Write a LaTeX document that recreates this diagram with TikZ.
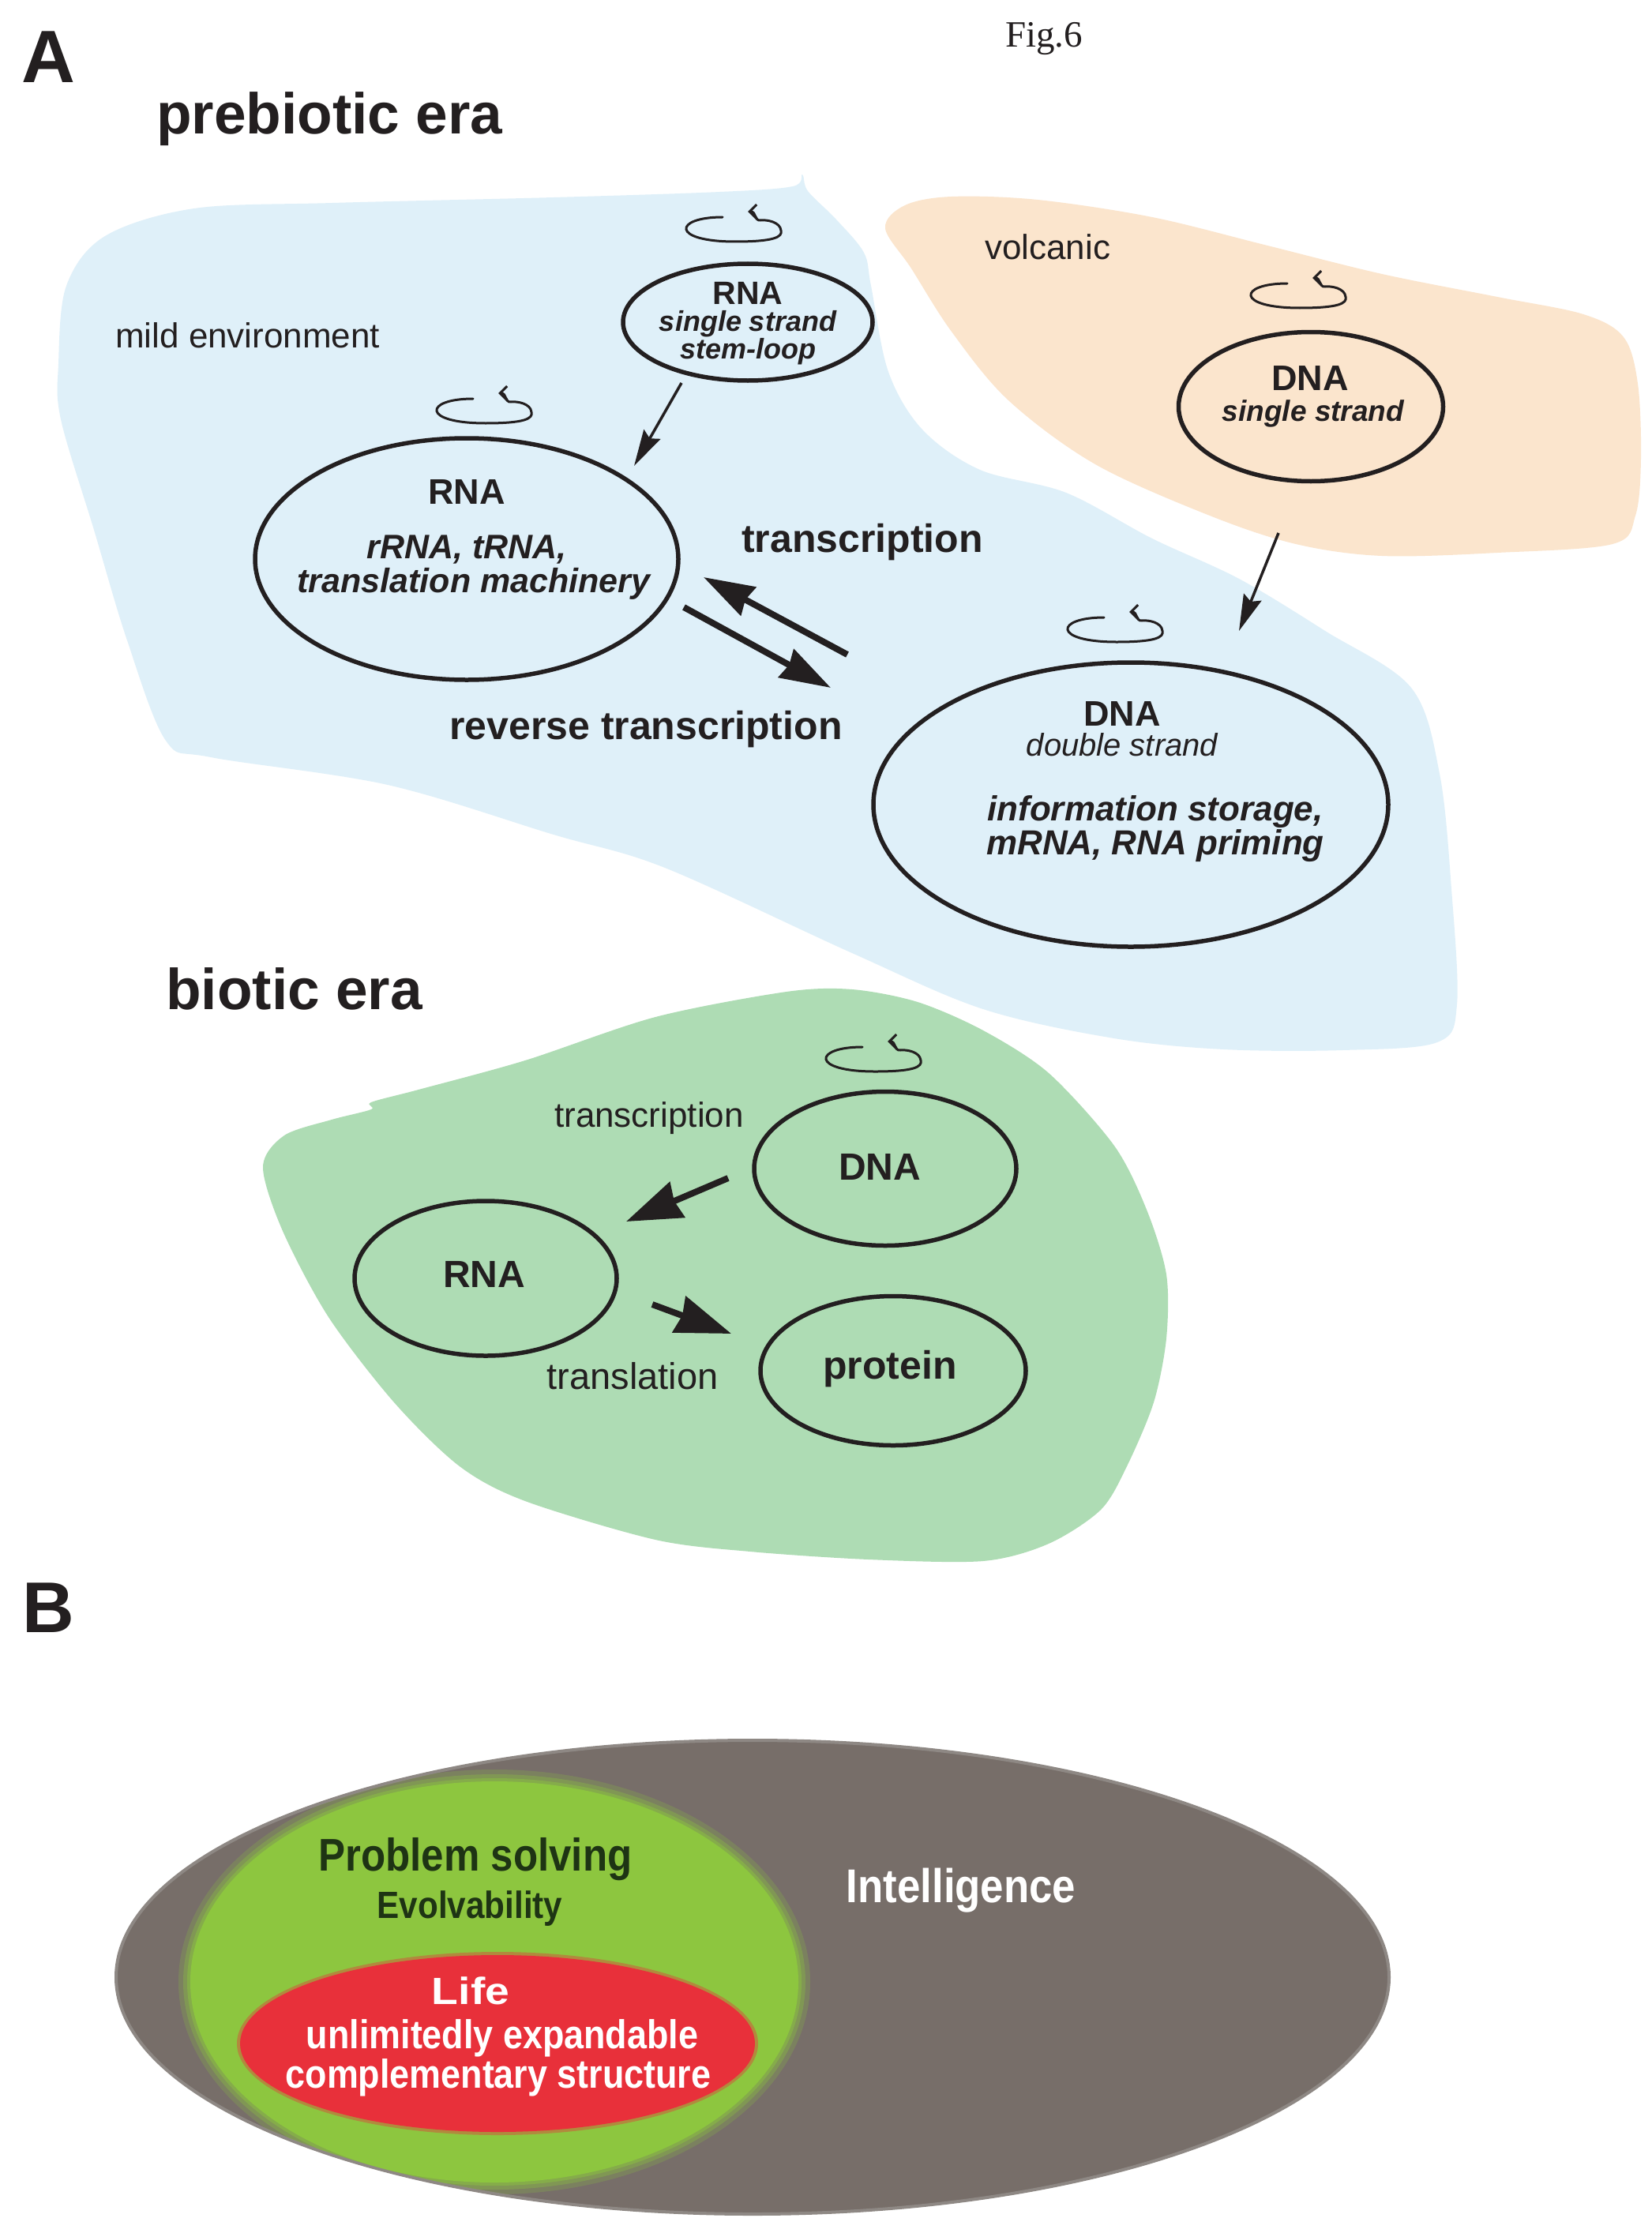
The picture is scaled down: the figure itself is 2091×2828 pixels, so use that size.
\documentclass[tikz,border=0pt]{standalone}
\usepackage{fontspec}
\usepackage{graphicx}
\setmainfont{Liberation Sans}
\newfontfamily\figserif{Liberation Serif}
\newfontfamily\condsans[FakeStretch=0.88]{Liberation Sans}
\usetikzlibrary{arrows.meta,shapes.geometric}
\newcommand{\setfs}[1]{\fontsize{#1pt}{#1pt}\selectfont}
\definecolor{ink}{HTML}{231F20}
\definecolor{mildblue}{HTML}{DFF0F9}
\definecolor{volc}{HTML}{FBE5CD}
\definecolor{bioticgreen}{HTML}{AEDCB4}
\definecolor{intgrey}{HTML}{776E69}
\definecolor{greyrim}{HTML}{8E8884}
\definecolor{probgreen}{HTML}{8DC63F}
\definecolor{lifered}{HTML}{E8303A}
\definecolor{darkgreen}{HTML}{1E3414}
\tikzset{
  cellring/.style={draw=ink, line width=5.5pt, ellipse, inner sep=0pt},
  lbl/.style={text=ink, inner sep=0pt, anchor=base},
  thinarrow/.style={draw=ink, line width=3.5pt, -{Stealth[length=46pt,width=24pt,inset=6pt]}},
  thickarrow/.style={draw=ink, line width=8pt, -{Stealth[length=64pt,width=40pt,inset=4pt]}},
  bioarrow/.style={draw=ink, line width=8pt, -{Stealth[length=70pt,width=48pt,inset=4pt]}},
  spinicon/.pic={
    \draw[ink, line width=3pt, line cap=round, -{Straight Barb[length=9pt,width=18pt]}]
      (-16,-15) .. controls (-78,-15) and (-82,16) .. (0,16)
      .. controls (50,16) and (60,10) .. (58,2)
      .. controls (57,-9) and (40,-12) .. (32,-11)
      .. controls (24,-10) and (27,-22) .. (16,-22);
  }
}
\begin{document}
\begin{tikzpicture}[x=1pt,y=-1pt]
\useasboundingbox (0,0) rectangle (2091,2828);
\fill[white] (0,0) rectangle (2091,2828);

% ---------- regions ----------
\fill[mildblue] plot[smooth cycle, tension=0.55] coordinates {
 (133,299) (246,264) (421,257) (701,250) (912,243) (1004,236) (1016,221) (1023,242)
 (1059,278) (1094,320) (1103,362) (1125,471) (1168,544) (1241,595) (1350,624)
 (1459,682) (1569,733) (1678,799) (1787,871) (1823,980) (1838,1126) (1845,1272)
 (1820,1320) (1700,1330) (1550,1329) (1411,1315) (1245,1278) (1079,1207) (842,1099)
 (701,1057) (491,994) (267,959) (210,938) (161,811) (119,671) (77,531) (74,461) (84,362)};
\fill[volc] plot[smooth cycle, tension=0.55] coordinates {
 (1121,289) (1146,260) (1205,249) (1314,253) (1459,275) (1605,311) (1750,347)
 (1896,376) (2005,398) (2056,427) (2074,486) (2078,580) (2071,653) (2042,689)
 (1896,700) (1750,704) (1641,689) (1532,653) (1387,588) (1277,507) (1205,420) (1154,340)};
\fill[bioticgreen] plot[smooth cycle, tension=0.5] coordinates {
 (470,1396) (530,1380) (665,1343) (830,1288) (996,1256) (1079,1253) (1162,1269)
 (1245,1305) (1328,1359) (1411,1451) (1452,1532) (1477,1614) (1477,1695) (1461,1776)
 (1427,1857) (1394,1912) (1328,1955) (1245,1977) (1100,1975) (950,1965) (830,1950)
 (665,1901) (582,1857) (499,1776) (416,1668) (358,1559) (333,1478) (360,1438) (420,1418) (470,1405)};

% ---------- titles ----------
\node[lbl, anchor=base west, font={\bfseries\setfs{94}}] (labA) at (27,105) {A};
\node[lbl, font={\figserif\setfs{47}}] (figno) at (1322,60) {Fig.6};
\node[lbl, anchor=base west, font={\bfseries\setfs{73}}] (prebio) at (198,170) {prebiotic era};
\node[lbl, anchor=base west, font={\bfseries\setfs{73}}] (bio) at (210,1278) {biotic era};
\node[lbl, anchor=base west, font={\bfseries\setfs{91}}] (labB) at (28,2067) {B};

% ---------- prebiotic cells ----------
\node[cellring, minimum width=316pt, minimum height=148pt] (rnaS) at (947,408) {};
\node[cellring, minimum width=536pt, minimum height=306pt] (rnaB) at (591,708) {};
\node[cellring, minimum width=335pt, minimum height=189pt] (dnaV) at (1660,515) {};
\node[cellring, minimum width=652pt, minimum height=360pt] (dnaD) at (1432,1019) {};

\pic at (931,290) {spinicon};
\pic at (615,520) {spinicon};
\pic at (1646,374) {spinicon};
\pic at (1414,797) {spinicon};

\node[lbl, font={\bfseries\setfs{41}}] (rnaSt1) at (947,385) {RNA};
\node[lbl, font={\bfseries\itshape\setfs{36}}] (rnaSt2) at (947,419) {single strand};
\node[lbl, font={\bfseries\itshape\setfs{36}}] (rnaSt3) at (947,454) {stem-loop};

\node[lbl, font={\bfseries\setfs{45}}] (rnaBt1) at (591,638) {RNA};
\node[lbl, font={\bfseries\itshape\setfs{43}}] (rnaBt2) at (591,707) {rRNA, tRNA,};
\node[lbl, font={\bfseries\itshape\setfs{43}}] (rnaBt3) at (600,750) {translation machinery};

\node[lbl, font={\bfseries\setfs{45}}] (dnaVt1) at (1659,494) {DNA};
\node[lbl, font={\bfseries\itshape\setfs{37}}] (dnaVt2) at (1663,533) {single strand};

\node[lbl, font={\bfseries\setfs{45}}] (dnaDt1) at (1421,919) {DNA};
\node[lbl, font={\itshape\setfs{40}}] (dnaDt2) at (1421,957) {double strand};
\node[lbl, font={\bfseries\itshape\setfs{44}}] (dnaDt3) at (1463,1039) {information storage,};
\node[lbl, font={\bfseries\itshape\setfs{44}}] (dnaDt4) at (1463,1082) {mRNA, RNA priming};

\node[lbl, anchor=base west, font={\setfs{44}}] (mild) at (146,440) {mild environment};
\node[lbl, anchor=base west, font={\setfs{44}}] (volcanic) at (1247,329) {volcanic};
\node[lbl, font={\bfseries\setfs{50}}] (trlab) at (1092,699) {transcription};
\node[lbl, font={\bfseries\setfs{50}}] (rtlab) at (818,936) {reverse transcription};

% prebiotic arrows
\coordinate (a1s) at (863,485); \coordinate (a1e) at (803,590);
\coordinate (a2s) at (1619,675); \coordinate (a2e) at (1569,799);
\coordinate (a3s) at (1073,829); \coordinate (a3e) at (891,731);
\coordinate (a4s) at (866,769); \coordinate (a4e) at (1052,871);
\draw[thinarrow] (a1s) -- (a1e);
\draw[thinarrow] (a2s) -- (a2e);
\draw[thickarrow] (a3s) -- (a3e);
\draw[thickarrow] (a4s) -- (a4e);

% ---------- biotic cells ----------
\node[cellring, minimum width=332pt, minimum height=195pt] (bDNA) at (1121,1480) {};
\node[cellring, minimum width=332pt, minimum height=196pt] (bRNA) at (615,1619) {};
\node[cellring, minimum width=336pt, minimum height=189pt] (bProt) at (1131,1736) {};
\pic at (1108,1341) {spinicon};
\node[lbl, font={\bfseries\setfs{48}}] (bDNAt) at (1114,1494) {DNA};
\node[lbl, font={\bfseries\setfs{48}}] (bRNAt) at (613,1630) {RNA};
\node[lbl, font={\bfseries\setfs{50}}] (bPrott) at (1127,1746) {protein};
\node[lbl, font={\setfs{44}}] (btrans) at (822,1427) {transcription};
\node[lbl, font={\setfs{47}}] (btransl) at (801,1759) {translation};
\coordinate (b1s) at (922,1492); \coordinate (b1e) at (793,1547);
\coordinate (b2s) at (826,1652); \coordinate (b2e) at (926,1689);
\draw[bioarrow] (b1s) -- (b1e);
\draw[bioarrow] (b2s) -- (b2e);

% ---------- panel B ----------
\node[ellipse, fill=intgrey, draw=greyrim, line width=4pt, inner sep=0pt,
      minimum width=1612pt, minimum height=600pt] (intel) at (953,2504) {};
\begin{scope}
\clip (953,2504) ellipse [x radius=804, y radius=298];
\fill[probgreen, opacity=0.22] (626,2510) ellipse [x radius=400, y radius=269];
\fill[probgreen, opacity=0.32] (626,2510) ellipse [x radius=394, y radius=263];
\fill[probgreen, opacity=0.45] (626,2510) ellipse [x radius=389, y radius=258];
\node[ellipse, fill=probgreen, inner sep=0pt,
      minimum width=770pt, minimum height=508pt] (probsolv) at (626,2510) {};
\end{scope}
\fill[lifered, opacity=0.4] (630,2588) ellipse [x radius=330, y radius=116];
\node[ellipse, fill=lifered, inner sep=0pt,
      minimum width=652pt, minimum height=224pt] (life) at (630,2588) {};

\node[lbl, text=darkgreen, font={\condsans\bfseries\setfs{58}}] (probt) at (602,2369) {Problem solving};
\node[lbl, text=darkgreen, font={\condsans\bfseries\setfs{48}}] (evolt) at (595,2429) {Evolvability};
\node[lbl, text=white, font={\condsans\bfseries\setfs{60}}] (intelt) at (1217,2409) {Intelligence};
\node[lbl, text=white, font={\bfseries\setfs{48}}] (lifet) at (596,2538) {\scalebox{1.15}[1]{Life}};
\node[lbl, text=white, font={\condsans\bfseries\setfs{51}}] (lifet2) at (636,2594) {unlimitedly expandable};
\node[lbl, text=white, font={\condsans\bfseries\setfs{51}}] (lifet3) at (631,2644) {complementary structure};
\end{tikzpicture}
\end{document}
